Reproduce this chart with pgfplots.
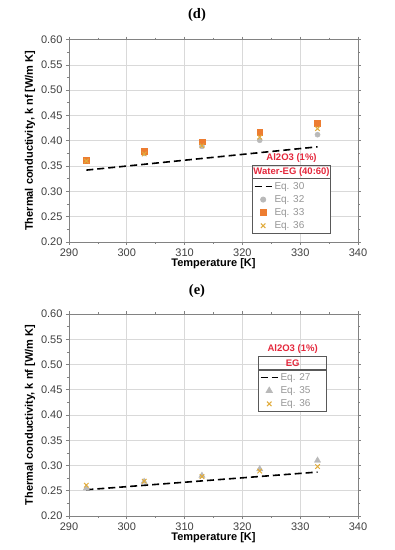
\documentclass[border=0pt]{standalone}
\usepackage{pgfplots}
\pgfplotsset{compat=1.18}
\usepackage{fontspec}
\setmainfont{Liberation Sans}
\newfontfamily\titlefont{Liberation Serif}
\usetikzlibrary{calc}
\definecolor{eqorange}{RGB}{237,125,49}
\definecolor{eqgray}{RGB}{185,185,185}
\definecolor{eqgold}{RGB}{225,172,60}
\definecolor{legred}{RGB}{228,40,60}
\definecolor{framegray}{RGB}{130,130,130}
\definecolor{legtext}{RGB}{150,150,150}
\pgfplotsset{
  myaxis/.style={
    scale only axis, width=289pt, height=202.5pt,
    xmin=290, xmax=340, ymin=0.2, ymax=0.6,
    xtick={290,300,310,320,330,340},
    ytick={0.20,0.25,0.30,0.35,0.40,0.45,0.50,0.55,0.60},
    minor x tick num=1, minor y tick num=1,
    grid=major, major grid style={draw=black!15, line width=0.6pt},
    axis line style={draw=framegray, line width=0.8pt},
    tick style={draw=framegray, line width=0.6pt},
    tick align=outside, major tick length=3pt, minor tick length=2pt,
    /pgf/number format/assume math mode=true,
    ticklabel style={font=\fontsize{11}{13}\selectfont, text=black!75},
    yticklabel style={/pgf/number format/.cd, fixed, fixed zerofill, precision=2},
    xticklabel style={/pgf/number format/.cd, fixed, precision=0, set thousands separator={}},
    xlabel={Temperature [K]},
    ylabel={Thermal conductivity, k nf [W/m K]},
    label style={font=\fontsize{11}{13}\selectfont\bfseries},
    xlabel style={yshift=5pt},
    ylabel style={yshift=-1pt},
    legend cell align=left,
    legend style={draw=black!65, line width=0.8pt, fill=white,
      font=\fontsize{10}{12}\selectfont, text=legtext,
      inner sep=1.5pt, row sep=0.6pt},
  },
}
\begin{document}
\begin{tikzpicture}
\path[use as bounding box] (0,0) rectangle (395pt,550pt);
\node[font=\titlefont\bfseries\fontsize{14.5}{16}\selectfont] at (197pt,535pt) {(d)};
\node[font=\titlefont\bfseries\fontsize{14.5}{16}\selectfont] at (197pt,259pt) {(e)};

% ---------------- (d)
\begin{axis}[myaxis, at={(69pt,308pt)}, anchor=south west,
  legend style={at={(rel axis cs:0.633,0.04)}, anchor=south west, name=legd}]
\addplot[black, line width=1.6pt, dash pattern=on 7pt off 4pt] coordinates {(293,0.342) (333,0.388)};
\addlegendentry{\makebox[52pt][l]{Eq. 30}}
\addplot[only marks, mark=*, mark size=2.6pt, color=eqgray] coordinates {
(293,0.362) (303,0.375) (313,0.389) (323,0.401) (333,0.412)};
\addlegendentry{Eq. 32}
\addplot[only marks, mark=square*, mark size=2.9pt, color=eqorange] coordinates {
(293,0.361) (303,0.379) (313,0.398) (323,0.417) (333,0.435)};
\addlegendentry{Eq. 33}
\addplot[only marks, mark=x, mark size=3.2pt, line width=1pt, color=eqgold] coordinates {
(293,0.360) (303,0.374) (313,0.390) (323,0.407) (333,0.424)};
\addlegendentry{Eq. 36}
\end{axis}
\path let \p1=($(legd.north east)-(legd.north west)$) in
  node[draw=black!65, line width=0.8pt, anchor=south west, minimum width=\x1,
       minimum height=12.5pt, inner sep=1pt, text=legred,
       font=\fontsize{9.5}{11}\selectfont\bfseries] (hd) at (legd.north west) {Water-EG (40:60)};
\node[anchor=south, text=legred, font=\fontsize{9.5}{11}\selectfont\bfseries, inner sep=1pt] at ($(hd.north)+(0,1.5pt)$) {Al2O3 (1\%)};

% ---------------- (e)
\begin{axis}[myaxis, at={(69pt,34pt)}, anchor=south west, height=202pt,
  legend style={at={(rel axis cs:0.654,0.515)}, anchor=south west, name=lege}]
\addplot[black, line width=1.6pt, dash pattern=on 7pt off 4pt] coordinates {(293,0.252) (333,0.287)};
\addlegendentry{\makebox[42pt][l]{Eq. 27}}
\addplot[only marks, mark=triangle*, mark size=3.6pt, color=eqgray] coordinates {
(293,0.255) (303,0.268) (313,0.280) (323,0.293) (333,0.310)};
\addlegendentry{Eq. 35}
\addplot[only marks, mark=x, mark size=3.2pt, line width=1pt, color=eqgold] coordinates {
(293,0.261) (303,0.269) (313,0.278) (323,0.289) (333,0.298)};
\addlegendentry{Eq. 36}
\end{axis}
\path let \p1=($(lege.north east)-(lege.north west)$) in
  node[draw=black!65, line width=0.8pt, anchor=south west, minimum width=\x1,
       minimum height=12.5pt, inner sep=1pt, text=legred,
       font=\fontsize{9.5}{11}\selectfont\bfseries] (he) at (lege.north west) {EG};
\node[anchor=south, text=legred, font=\fontsize{9.5}{11}\selectfont\bfseries, inner sep=1pt] at ($(he.north)+(0,1.5pt)$) {Al2O3 (1\%)};
\end{tikzpicture}
\end{document}
